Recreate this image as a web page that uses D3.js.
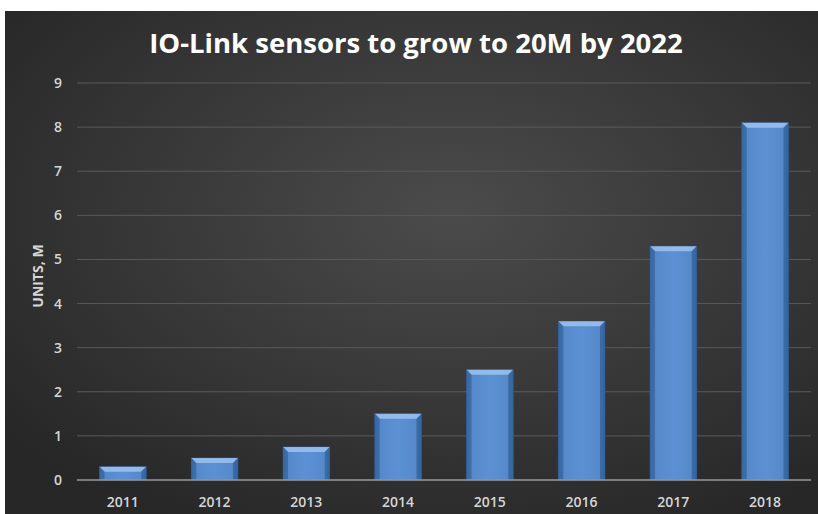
<!DOCTYPE html>
<html><head><meta charset="utf-8">
<script src="https://cdn.jsdelivr.net/npm/d3@7/dist/d3.min.js"></script>
<style>html,body{margin:0;padding:0;background:#fff;}svg{display:block;}</style>
</head><body>
<script>
const years = ["2011","2012","2013","2014","2015","2016","2017","2018"];
const units = [0.3, 0.5, 0.75, 1.5, 2.5, 3.6, 5.3, 8.1];
const yTicks = [0,1,2,3,4,5,6,7,8,9];
const titleText = "IO-Link sensors to grow to 20M by 2022";
const yLabel = "UNITS, M";

const W = 818, H = 514;
const svg = d3.select("body").append("svg").attr("width", W).attr("height", H);
const defs = svg.append("defs");

const bg = defs.append("radialGradient").attr("id","bg").attr("cx","55%").attr("cy","40%").attr("r","70%");
bg.append("stop").attr("offset","0%").attr("stop-color","#4b4b4b");
bg.append("stop").attr("offset","100%").attr("stop-color","#272727");

const bar = defs.append("linearGradient").attr("id","bar").attr("x1","0").attr("x2","1").attr("y1","0").attr("y2","0");
bar.append("stop").attr("offset","0%").attr("stop-color","#3a6aa6");
bar.append("stop").attr("offset","12%").attr("stop-color","#5689ca");
bar.append("stop").attr("offset","50%").attr("stop-color","#5b91d4");
bar.append("stop").attr("offset","88%").attr("stop-color","#5689ca");
bar.append("stop").attr("offset","100%").attr("stop-color","#3767a2");

svg.append("rect").attr("x",5).attr("y",11).attr("width",W-5).attr("height",H-11).attr("fill","url(#bg)");

const x = d3.scaleBand().domain(years).range([77, 811]).paddingInner(0.49).paddingOuter(0.245);
const y = d3.scaleLinear().domain([0, 9]).range([480, 83]);

// gridlines
svg.append("g").selectAll("line").data(yTicks.filter(d => d > 0)).join("line")
  .attr("x1",77).attr("x2",811).attr("y1",d=>y(d)).attr("y2",d=>y(d))
  .attr("stroke","#5a5a5a").attr("stroke-width",1);

// y tick labels
const yAxis = svg.append("g").attr("transform","translate(62,0)")
  .call(d3.axisLeft(y).tickValues(yTicks).tickSize(0).tickPadding(0));
yAxis.select(".domain").remove();
yAxis.selectAll("text").attr("fill","#d6d6d6").attr("font-family","Open Sans, sans-serif").attr("font-size",14).attr("font-weight","600");

// bars
const g = svg.append("g");
years.forEach((yr, i) => {
  const x0 = x(yr), w = x.bandwidth(), y0 = y(units[i]), h = y(0) - y(units[i]);
  g.append("rect").attr("x",x0).attr("y",y0).attr("width",w).attr("height",h).attr("fill","url(#bar)")
    .attr("stroke","#2d5689").attr("stroke-width",0.6);
  const b = Math.min(5, h/2);
  g.append("path").attr("d",`M${x0},${y0}L${x0+w},${y0}L${x0+w-b},${y0+b}L${x0+b},${y0+b}Z`).attr("fill","#9cc2ee").attr("opacity",0.85);
  g.append("path").attr("d",`M${x0},${y0}L${x0+b},${y0+b}L${x0+b},${y0+h}L${x0},${y0+h}Z`).attr("fill","#36669f").attr("opacity",0.7);
  g.append("path").attr("d",`M${x0+w},${y0}L${x0+w-b},${y0+b}L${x0+w-b},${y0+h}L${x0+w},${y0+h}Z`).attr("fill","#33629b").attr("opacity",0.7);
});

// baseline
svg.append("line").attr("x1",77).attr("x2",811).attr("y1",y(0)).attr("y2",y(0)).attr("stroke","#9a9a9a").attr("stroke-width",1.5);

// x axis labels
const xAxis = svg.append("g").attr("transform",`translate(0,${y(0)})`)
  .call(d3.axisBottom(x).tickSize(0).tickPadding(17));
xAxis.select(".domain").remove();
xAxis.selectAll("text").attr("fill","#d6d6d6").attr("font-family","Open Sans, sans-serif").attr("font-size",14).attr("font-weight","600");

// title
svg.append("text").attr("x",416).attr("y",53).attr("text-anchor","middle")
  .attr("fill","#ffffff").attr("font-family","Open Sans, sans-serif").attr("font-weight","700").attr("font-size",27.5)
  .text(titleText);

// y label
svg.append("text").attr("transform","translate(43,276) rotate(-90)").attr("text-anchor","middle")
  .attr("fill","#d6d6d6").attr("font-family","Open Sans, sans-serif").attr("font-weight","700").attr("font-size",14)
  .text(yLabel);
</script>
</body></html>
